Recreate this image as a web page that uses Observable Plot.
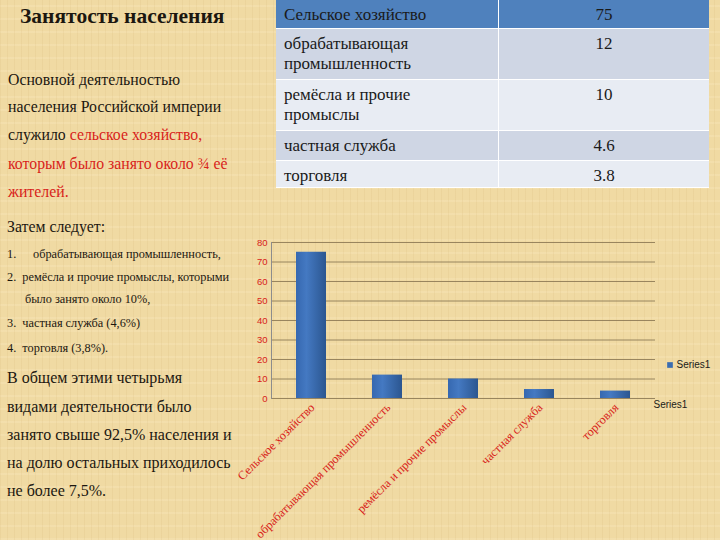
<!DOCTYPE html>
<html>
<head>
<meta charset="utf-8">
<script src="https://cdn.jsdelivr.net/npm/d3@7"></script>
<script src="https://cdn.jsdelivr.net/npm/@observablehq/plot@0.6"></script>
<style>
  html, body { margin: 0; padding: 0; }
  #page {
    position: relative; width: 720px; height: 540px; overflow: hidden;
    background-color: #f0daa3;
    background-image:
      repeating-linear-gradient(90deg, rgba(200,165,100,0.12) 0px, rgba(200,165,100,0.12) 1px, transparent 1px, transparent 7px),
      repeating-linear-gradient(0deg, rgba(255,240,205,0.20) 0px, rgba(255,240,205,0.20) 2px, transparent 2px, transparent 13px);
    font-family: "Liberation Serif", "Times New Roman", Times, Tinos, "DejaVu Serif", "Noto Serif", FreeSerif, serif;
  }
  .ln { position: absolute; white-space: nowrap; line-height: 1; color: #1c1710; }
  .red { color: #d8231a; }
  #chart { position: absolute; left: 0; top: 0; }
  #tbl {
    position: absolute; left: 276px; top: 0px; width: 433px;
    border-collapse: collapse; font-family: inherit; font-size: 17px; color: #1a1a1a;
  }
  #tbl td { border: 1.5px solid #ffffff; vertical-align: top; padding: 5px 0 0 8px; line-height: 20px; }
  #tbl td.num { text-align: center; padding-left: 0; }
  #tbl tr.h td { background: #4f81bd; border-top: none; }
  #tbl tr.a td { background: #cfd6e4; }
  #tbl tr.b td { background: #e8ecf3; }
  #tbl td:first-child { border-left: none; }
  #tbl td:last-child { border-right: none; }
</style>
</head>
<body>
<div id="page">
  <table id="tbl"></table>
  <div id="chart"></div>
</div>
<script>
// ---- data ----
const categories = ["Сельское хозяйство", "обрабатывающая промышленность", "ремёсла и прочие промыслы", "частная служба", "торговля"];
const tableLabels = ["Сельское хозяйство", "обрабатывающая<br>промышленность", "ремёсла и прочие<br>промыслы", "частная служба", "торговля"];
const values = [75, 12, 10, 4.6, 3.8];
const valueLabels = ["75", "12", "10", "4.6", "3.8"];
const yTicks = [0, 10, 20, 30, 40, 50, 60, 70, 80];
const seriesName = "Series1";

const rowHeights = [28, 51, 51, 30, 27];
const serifStack = "'Liberation Serif', 'Times New Roman', Times, Tinos, 'DejaVu Serif', 'Noto Serif', FreeSerif, serif";

// ---- table ----
const tbl = document.getElementById("tbl");
tableLabels.forEach((lab, i) => {
  const tr = document.createElement("tr");
  tr.className = i === 0 ? "h" : (i % 2 === 1 ? "a" : "b");
  tr.style.height = rowHeights[i] + "px";
  tr.innerHTML = `<td style="width:214px">${lab}</td><td class="num">${valueLabels[i]}</td>`;
  tbl.appendChild(tr);
});

// ---- left text ----
const page = document.getElementById("page");
const lines = [
  // [html, x, baseline, size, bold]
  ["Занятость населения", 20, 24, 21.5, true],
  ["Основной деятельностью", 8, 85, 15.8, false],
  ["населения Российской империи", 8, 112, 15.8, false],
  ["служило <span class='red'>сельское хозяйство,</span>", 8, 140, 15.8, false],
  ["<span class='red'>которым было занято около ¾ её</span>", 8, 169, 15.8, false],
  ["<span class='red'>жителей.</span>", 8, 197, 15.8, false],
  ["Затем следует:", 7, 232, 15.8, false],
  ["1.", 7, 258, 12.3, false],
  ["обрабатывающая промышленность,", 33, 258, 12.3, false],
  ["2.&nbsp;&nbsp;ремёсла и прочие промыслы, которыми", 7, 281, 12.3, false],
  ["было занято около 10%,", 25, 303, 12.3, false],
  ["3.&nbsp;&nbsp;частная служба (4,6%)", 7, 327, 12.3, false],
  ["4.&nbsp;&nbsp;торговля (3,8%).", 7, 352, 12.3, false],
  ["В общем этими четырьмя", 7, 383, 16, false],
  ["видами деятельности было", 7, 412, 16, false],
  ["занято свыше 92,5% населения и", 7, 440, 16, false],
  ["на долю остальных приходилось", 7, 468, 16, false],
  ["не более 7,5%.", 7, 496, 16, false]
];
lines.forEach(([html, x, base, size, bold]) => {
  const d = document.createElement("div");
  d.className = "ln";
  d.innerHTML = html;
  d.style.left = x + "px";
  d.style.top = (base - 0.837 * size) + "px";
  d.style.fontSize = size + "px";
  if (bold) d.style.fontWeight = "bold";
  page.appendChild(d);
});

// ---- chart ----
const data = categories.map((c, i) => ({cat: categories[i], val: values[i]}));
const red = "#d8231a";
const grid = "#8a7652";

const chart = Plot.plot({
  width: 720,
  height: 540,
  marginLeft: 271,
  marginRight: 65,
  marginTop: 242,
  marginBottom: 142,
  style: {background: "transparent", fontFamily: "'Liberation Sans', Arial, sans-serif", overflow: "visible"},
  x: {domain: categories, paddingInner: 0.6, paddingOuter: 0.3, label: null},
  y: {domain: [0, 80], label: null},
  marks: [
    Plot.gridY(yTicks, {stroke: grid, strokeOpacity: 0.85, strokeWidth: 1}),
    Plot.frame({anchor: "left", stroke: "#8c8c8c"}),
    Plot.barY(data, {x: "cat", y: "val", fill: "url(#barGrad)"}),
    Plot.axisY({ticks: yTicks, tickSize: 0, tickPadding: 4, fill: red, fontSize: 9.5, label: null}),
    Plot.axisX({tickSize: 0, tickPadding: 5, tickRotate: -45, dx: 1, dy: 2, fill: red, fontSize: 12.3,
                fontFamily: serifStack, label: null}),
    Plot.dot([seriesName], {frameAnchor: "right", dx: 14.5, dy: 44.5, symbol: "square", r: 3.2, fill: "#3a6cb0"}),
    Plot.text([seriesName], {text: d => d, frameAnchor: "right", textAnchor: "start", dx: 21, dy: 44.5, fontSize: 10, fill: "#1a1a1a"}),
    Plot.text([seriesName], {text: d => d, frameAnchor: "bottom-right", textAnchor: "start", dx: -2, dy: 9, fontSize: 10, fill: "#1a1a1a"})
  ]
});

const svg = d3.select(chart);
const defs = svg.insert("defs", ":first-child");
const g = defs.append("linearGradient").attr("id", "barGrad").attr("x1", "0%").attr("x2", "100%").attr("y1", "0%").attr("y2", "0%");
g.append("stop").attr("offset", "0%").attr("stop-color", "#3668b0");
g.append("stop").attr("offset", "35%").attr("stop-color", "#4479c2");
g.append("stop").attr("offset", "100%").attr("stop-color", "#2b5690");

document.getElementById("chart").appendChild(chart);
</script>
</body>
</html>
